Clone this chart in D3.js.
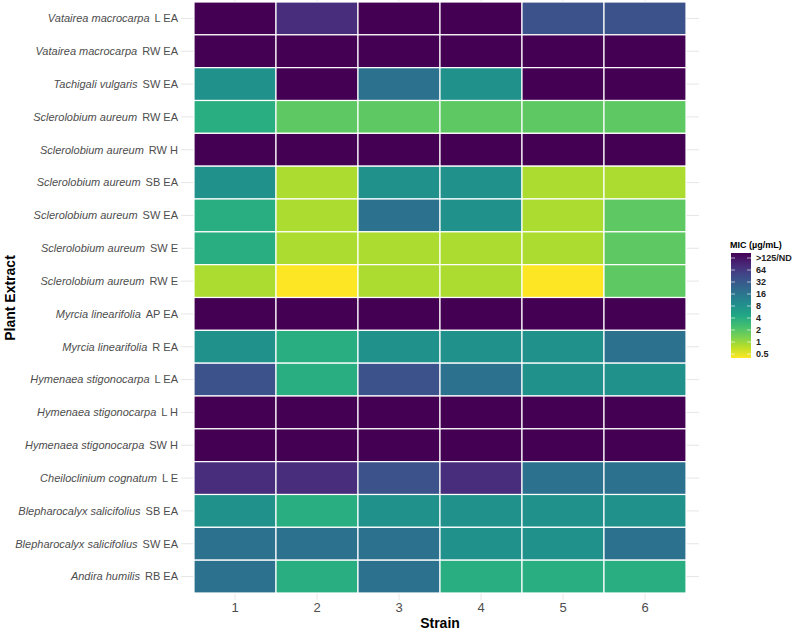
<!DOCTYPE html>
<html>
<head>
<meta charset="utf-8">
<script src="https://cdn.jsdelivr.net/npm/d3@7"></script>
<style>
  body { margin: 0; background: #fff; }
  text { font-family: "Liberation Sans", Arial, sans-serif; }
</style>
</head>
<body>
<script>
// Data
const strains = ["1", "2", "3", "4", "5", "6"];
const species = [
  "Vatairea macrocarpa", "Vatairea macrocarpa", "Tachigali vulgaris",
  "Sclerolobium aureum", "Sclerolobium aureum", "Sclerolobium aureum",
  "Sclerolobium aureum", "Sclerolobium aureum", "Sclerolobium aureum",
  "Myrcia linearifolia", "Myrcia linearifolia", "Hymenaea stigonocarpa",
  "Hymenaea stigonocarpa", "Hymenaea stigonocarpa", "Cheiloclinium cognatum",
  "Blepharocalyx salicifolius", "Blepharocalyx salicifolius", "Andira humilis"
];
const parts = [
  "L EA", "RW EA", "SW EA", "RW EA", "RW H", "SB EA", "SW EA", "SW E", "RW E",
  "AP EA", "R EA", "L EA", "L H", "SW H", "L E", "SB EA", "SW EA", "RB EA"
];
// MIC in µg/mL, ND = >125 or not determined
const ND = 128;
const mic = [
  [ND, 64, ND, ND, 32, 32],
  [ND, ND, ND, ND, ND, ND],
  [8, ND, 16, 8, ND, ND],
  [4, 2, 2, 2, 2, 2],
  [ND, ND, ND, ND, ND, ND],
  [8, 1, 8, 8, 1, 1],
  [4, 1, 16, 8, 1, 2],
  [4, 1, 1, 1, 1, 2],
  [1, 0.5, 1, 1, 0.5, 2],
  [ND, ND, ND, ND, ND, ND],
  [8, 4, 8, 8, 8, 16],
  [32, 4, 32, 16, 8, 8],
  [ND, ND, ND, ND, ND, ND],
  [ND, ND, ND, ND, ND, ND],
  [64, 64, 32, 64, 16, 16],
  [8, 4, 8, 8, 8, 8],
  [16, 16, 16, 8, 8, 16],
  [16, 4, 16, 4, 4, 4]
];
const legendTicks = [ND, 64, 32, 16, 8, 4, 2, 1, 0.5];
const legendLabels = [">125/ND", "64", "32", "16", "8", "4", "2", "1", "0.5"];

//Svg
const width = 795, height = 632;
const svg = d3.select("body").append("svg")
  .attr("width", width).attr("height", height);

const rows = species.map((s, i) => i);

const x = d3.scaleBand().domain(strains).range([194, 686]);
const y = d3.scaleBand().domain(rows).range([2, 593]);

const logv = d3.scaleLog().base(2).domain([0.5, ND]).range([1, 0]);
const color = v => d3.interpolateViridis(logv(v));

//Grid stubs behind tiles
svg.append("g").selectAll("line").data(rows).join("line")
  .attr("x1", 181).attr("x2", 699)
  .attr("y1", d => y(d) + y.bandwidth() / 2)
  .attr("y2", d => y(d) + y.bandwidth() / 2)
  .attr("stroke", "#e6e6e6").attr("stroke-width", 1);
svg.append("g").selectAll("line").data(strains).join("line")
  .attr("x1", d => x(d) + x.bandwidth() / 2)
  .attr("x2", d => x(d) + x.bandwidth() / 2)
  .attr("y1", 0).attr("y2", 600)
  .attr("stroke", "#e6e6e6").attr("stroke-width", 1);

//Tiles
const cells = [];
mic.forEach((r, i) => r.forEach((v, j) => cells.push({ row: i, strain: strains[j], v })));
svg.append("g").selectAll("rect").data(cells).join("rect")
  .attr("x", d => x(d.strain))
  .attr("y", d => y(d.row))
  .attr("width", x.bandwidth())
  .attr("height", y.bandwidth())
  .attr("fill", d => color(d.v))
  .attr("stroke", "white")
  .attr("stroke-width", 1.2);

//Y labels (species italic)
const yl = svg.append("g").selectAll("text").data(rows).join("text")
  .attr("x", 178)
  .attr("y", d => y(d) + y.bandwidth() / 2)
  .attr("dy", "0.35em")
  .attr("text-anchor", "end")
  .attr("font-size", 11)
  .attr("fill", "#4d4d4d");
yl.append("tspan").attr("font-style", "italic").text(d => species[d]);
yl.append("tspan").attr("dx", 5).text(d => parts[d]);

//X labels
svg.append("g").selectAll("text").data(strains).join("text")
  .attr("x", d => x(d) + x.bandwidth() / 2)
  .attr("y", 612)
  .attr("text-anchor", "middle")
  .attr("font-size", 13)
  .attr("fill", "#4d4d4d")
  .text(d => d);

//Axis titles
svg.append("text")
  .attr("x", 440).attr("y", 628)
  .attr("text-anchor", "middle")
  .attr("font-size", 14).attr("font-weight", "bold")
  .text("Strain");
svg.append("text")
  .attr("transform", "translate(15,298) rotate(-90)")
  .attr("text-anchor", "middle")
  .attr("font-size", 14).attr("font-weight", "bold")
  .text("Plant Extract");

//Legend
const lx = 731, lw = 20, ltop = 253, lbot = 358;
const ls = d3.scaleLog().base(2).domain([0.5, ND]).range([354, 258]);
const defs = svg.append("defs");
const grad = defs.append("linearGradient").attr("id", "vir")
  .attr("x1", 0).attr("x2", 0).attr("y1", 1).attr("y2", 0);
d3.range(0, 1.0001, 0.1).forEach(t => {
  grad.append("stop").attr("offset", t).attr("stop-color", d3.interpolateViridis(1 - t));
});
svg.append("rect")
  .attr("x", lx).attr("y", ltop).attr("width", lw).attr("height", lbot - ltop)
  .attr("fill", "url(#vir)");
const lt = svg.append("g");
lt.selectAll("line.l").data(legendTicks).join("line")
  .attr("x1", lx).attr("x2", lx + 4)
  .attr("y1", d => ls(d)).attr("y2", d => ls(d))
  .attr("stroke", "white").attr("stroke-opacity", 0.6);
lt.selectAll("line.r").data(legendTicks).join("line")
  .attr("x1", lx + lw - 4).attr("x2", lx + lw)
  .attr("y1", d => ls(d)).attr("y2", d => ls(d))
  .attr("stroke", "white").attr("stroke-opacity", 0.6);
svg.append("g").selectAll("text").data(legendTicks).join("text")
  .attr("x", lx + lw + 5)
  .attr("y", d => ls(d))
  .attr("dy", "0.35em")
  .attr("font-size", 9).attr("font-weight", "bold")
  .attr("fill", "#222")
  .text((d, i) => legendLabels[i]);
svg.append("text")
  .attr("x", 730).attr("y", 248)
  .attr("font-size", 9).attr("font-weight", "bold")
  .text("MIC (µg/mL)");
</script>
</body>
</html>
